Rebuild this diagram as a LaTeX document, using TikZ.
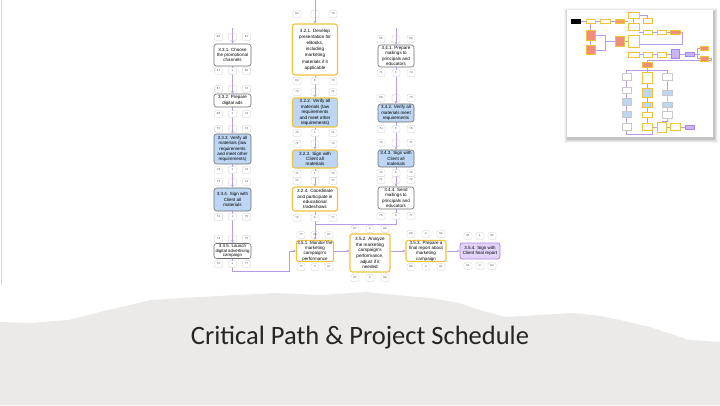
\documentclass[tikz,border=0pt]{standalone}
\usepackage{fontspec}
\setmainfont{Carlito}
\newfontfamily\dfont{Liberation Sans}
\usetikzlibrary{arrows.meta}
\pgfdeclarelayer{paper}
\pgfdeclarelayer{bg}
\pgfsetlayers{paper,bg,main}
\definecolor{yel}{HTML}{F0C23B}
\definecolor{blueF}{HTML}{BCD6F3}
\definecolor{grayB}{HTML}{6E6E6E}
\definecolor{purpleF}{HTML}{E3D5FA}
\definecolor{purpleB}{HTML}{A585E6}
\definecolor{lineC}{HTML}{B49CE6}
\definecolor{cellB}{HTML}{C8C8C8}
\definecolor{bandC}{HTML}{EBEAE8}
\definecolor{titleC}{HTML}{262626}
\definecolor{salmon}{HTML}{EF8C7C}
\definecolor{orng}{HTML}{F2A45E}
\tikzset{
 task/.style={rounded corners=2.5pt, align=center, inner sep=0.6pt, font=\dfont\fontsize{4.5}{5.3}\selectfont, text=black},
 tw/.style={task, draw=grayB, line width=0.6pt, fill=white},
 tb/.style={task, draw=grayB, line width=0.6pt, fill=blueF},
 yw/.style={task, draw=yel, line width=1.1pt, fill=white},
 yb/.style={task, draw=yel, line width=1.1pt, fill=blueF},
 pp/.style={task, draw=purpleB, line width=0.8pt, fill=purpleF},
 cell/.style={draw=cellB, line width=0.35pt, rounded corners=1pt, fill=white, minimum width=8pt, minimum height=6.5pt, inner sep=0pt, font=\dfont\fontsize{2.8}{3}\selectfont, text=black!75},
 cellopen/.style={cell, fill=none},
 conn/.style={draw=lineC, line width=0.6pt},
 arr/.style={conn, -{Stealth[length=3pt,width=2.6pt]}},
 thl/.style={draw=lineC, line width=0.3pt},
 mY/.style={draw=yel, line width=0.4pt, fill=white},
 mR/.style={draw=yel, line width=0.4pt, fill=salmon},
 mO/.style={draw=yel, line width=0.4pt, fill=orng},
 mB/.style={draw=cellB, line width=0.4pt, fill=blueF},
 mP/.style={draw=purpleB, line width=0.4pt, fill=purpleF!60!purpleB},
 mG/.style={draw=cellB, line width=0.4pt, fill=white},
 mK/.style={fill=black},
}
\newcommand\toprow[7]{%
 \node[cell] (#1-tl) at ({#2-#3},#4) {#5};
 \node[cellopen] (#1-tm) at (#2,#4) {#6};
 \node[cell] (#1-tr) at ({#2+#3},#4) {#7};}
\newcommand\botrow[7]{%
 \node[cell] (#1-bl) at ({#2-#3},#4) {#5};
 \node[cell] (#1-bm) at (#2,#4) {#6};
 \node[cell] (#1-br) at ({#2+#3},#4) {#7};}
\begin{document}
\begin{tikzpicture}[x=1pt,y=-1pt]
\useasboundingbox (0,0) rectangle (720,405);
\begin{pgfonlayer}{paper}
\fill[white] (0,0) rectangle (720,405);
\draw[black!15, line width=0.5pt] (1,0) -- (1,285);
% torn paper band
\fill[bandC] (0,322) -- (30,323) -- (69,320) -- (100,312) -- (151,300) -- (200,297)
 -- (275,293) -- (320,295) -- (367,292) -- (395,295) -- (430,298) -- (459,303)
 -- (480,310) -- (505,317) -- (540,315) -- (574,313) -- (600,316) -- (620,320)
 -- (650,327) -- (689,340) -- (705,341) -- (720,342) -- (720,405) -- (0,405) -- cycle;
\end{pgfonlayer}
\node[font=\fontsize{26.5}{30}\selectfont, text=titleC] (title) at (360,338) {Critical Path \& Project Schedule};

% ---------- column 1 ----------
\node[tw, minimum width=37pt, minimum height=22pt] (t331) at (232.5,55) {3.3.1. Choose\\the promotional\\channels};
\toprow{t331}{232.5}{14}{37}{66}{}{67}
\botrow{t331}{232.5}{14}{71}{67}{1}{68}
\node[tw, minimum width=37pt, minimum height=13pt] (t332) at (232.5,100.5) {3.3.2. Prepare\\digital ads};
\toprow{t332}{232.5}{14}{89}{67}{}{72}
\botrow{t332}{232.5}{14}{114}{68}{1}{73}
\node[tb, minimum width=37pt, minimum height=30pt] (t333) at (232.5,149) {3.3.3. Verify all\\materials (law\\requirements\\and meet other\\requirements)};
\toprow{t333}{232.5}{14}{129}{72}{}{73}
\botrow{t333}{232.5}{14}{170}{73}{1}{74}
\node[tb, minimum width=37pt, minimum height=23pt] (t334) at (232.5,199.5) {3.3.4. Sign with\\Client all\\materials};
\toprow{t334}{232.5}{14}{182}{73}{}{74}
\botrow{t334}{232.5}{14}{217}{74}{1}{75}
\node[tw, minimum width=37pt, minimum height=15pt, font=\dfont\fontsize{4.4}{4.7}\selectfont] (t335) at (232.5,251) {3.3.5. Launch\\digital advertising\\campaign};
\toprow{t335}{232.5}{14}{239}{74}{}{75}
\botrow{t335}{232.5}{14}{264}{75}{1}{77}

% ---------- column 2 ----------
\node[yw, minimum width=45pt, minimum height=51pt, font=\dfont\fontsize{4.6}{6.2}\selectfont] (t321) at (315,49.5) {3.2.1. Develop\\presentation for\\eBooks,\\including\\marketing\\materials if it\\applicable};
\toprow{t321}{315}{18}{14}{64}{}{70}
\botrow{t321}{315}{18}{81}{64}{6}{70}
\node[yb, minimum width=45pt, minimum height=29pt, font=\dfont\fontsize{4.6}{5.4}\selectfont] (t322) at (315,112.5) {3.2.2. Verify all\\materials (law\\requirements\\and meet other\\requirements)};
\toprow{t322}{315}{18}{92}{70}{}{71}
\botrow{t322}{315}{18}{133}{70}{1}{71}
\node[yb, minimum width=45pt, minimum height=18pt, font=\dfont\fontsize{4.6}{5.1}\selectfont] (t323) at (315,159) {3.2.3. Sign with\\Client all\\materials};
\toprow{t323}{315}{18}{144}{71}{}{72}
\botrow{t323}{315}{18}{174}{71}{1}{72}
\node[yw, minimum width=45pt, minimum height=24pt, font=\dfont\fontsize{4.6}{5.3}\selectfont] (t324) at (315,199) {3.2.4. Coordinate\\and participate in\\educational\\tradeshows};
\toprow{t324}{315}{18}{181}{72}{}{77}
\botrow{t324}{315}{18}{218}{72}{5}{77}

% ---------- column 3 ----------
\node[tw, minimum width=36pt, minimum height=22pt] (t341) at (396,56) {3.4.1. Prepare\\mailings to\\principals and\\educators};
\toprow{t341}{396}{15}{39}{65}{}{69}
\botrow{t341}{396}{15}{73}{71}{5}{74}
\node[tb, minimum width=36pt, minimum height=18pt] (t342) at (396,113) {3.4.2. Verify all\\materials meet\\requirements};
\toprow{t342}{396}{15}{98}{69}{}{70}
\botrow{t342}{396}{15}{129}{74}{5}{75}
\node[tb, minimum width=36pt, minimum height=17pt] (t343) at (396,158.5) {3.4.3. Sign with\\Client all\\materials};
\toprow{t343}{396}{15}{143}{70}{}{71}
\botrow{t343}{396}{15}{173}{75}{5}{76}
\node[tw, minimum width=36pt, minimum height=22pt] (t344) at (396,198) {3.4.4. Send\\mailings to\\principals and\\educators};
\toprow{t344}{396}{15}{180}{71}{}{72}
\botrow{t344}{396}{15}{216}{76}{5}{77}

% ---------- bottom row ----------
\node[yw, minimum width=37pt, minimum height=20pt] (t351) at (315,251) {3.5.1. Monitor the\\marketing\\campaign's\\performance};
\toprow{t351}{315}{14}{235}{77}{10}{87}
\botrow{t351}{315}{14}{267}{77}{0}{87}
\node[yw, minimum width=40pt, minimum height=38pt, font=\dfont\fontsize{4.6}{5.6}\selectfont] (t352) at (370,253) {3.5.2. Analyze\\the marketing\\campaign's\\performance,\\adjust if it\\needed};
\toprow{t352}{370}{15}{229}{87}{2}{89}
\botrow{t352}{370}{15}{278}{87}{0}{89}
\node[yw, minimum width=40pt, minimum height=20pt] (t353) at (426,251) {3.5.3. Prepare a\\final report about\\marketing\\campaign};
\toprow{t353}{426}{15}{234}{89}{2}{91}
\botrow{t353}{426}{15}{267}{89}{0}{91}
\node[pp, minimum width=40pt, minimum height=16pt] (t354) at (480,251) {3.5.4. Sign with\\Client final report};
\toprow{t354}{480}{12}{236}{91}{1}{92}
\botrow{t354}{480}{12}{266}{91}{0}{92}

% free ends and bends
\coordinate (s1) at (232.5,28);
\coordinate (s2) at (315,0);
\coordinate (s3) at (396,28);
\coordinate (j3) at (315,224);
\coordinate (b1) at (289,271);

\begin{pgfonlayer}{bg}
\draw[arr] (s1) -- (t331.north);
\draw[arr] (t331.south) -- (t332.north);
\draw[arr] (t332.south) -- (t333.north);
\draw[arr] (t333.south) -- (t334.north);
\draw[arr] (t334.south) -- (t335.north);
\draw[arr] (s2) -- (t321.north);
\draw[arr] (t321.south) -- (t322.north);
\draw[arr] (t322.south) -- (t323.north);
\draw[arr] (t323.south) -- (t324.north);
\draw[arr] (t324.south) -- (t351.north);
\draw[arr] (s3) -- (t341.north);
\draw[arr] (t341.south) -- (t342.north);
\draw[arr] (t342.south) -- (t343.north);
\draw[arr] (t343.south) -- (t344.north);
\draw[conn] (t344.south) |- (j3);
\draw[arr] (t335.south) |- (b1) |- (t351.west);
\draw[arr] (t351.east) -- (t351.east -| t352.west);
\draw[arr] (t351.east -| t352.east) -- (t351.east -| t353.west);
\draw[arr] (t353.east) -- (t354.west);
\end{pgfonlayer}

% ---------- thumbnail ----------
\foreach \d/\o in {4/0.04,3/0.05,2/0.07,1/0.09}{
 \fill[black, opacity=\o] ({567-\d+1},{10-\d+2}) rectangle ({713+\d+1},{137+\d+2});}
\fill[white] (567,10) rectangle (713,137);
\draw[thl] (581,21) -- (628,21);
\draw[thl] (590.5,23) -- (590.5,45);
\draw[thl] (595,35) -- (605,35) -- (605,50) -- (595,50);
\draw[thl] (605,41) -- (615,41);
\draw[thl] (624,41) -- (628,41);
\draw[thl] (633.5,18) -- (633.5,23);
\draw[thl] (639,15) -- (647.5,15) -- (647.5,18);
\draw[thl] (639,32) -- (680,32);
\draw[thl] (639,54.5) -- (700,54.5);
\draw[thl] (697,54.5) -- (697,48) -- (700,48);
\draw[thl] (697,54.5) -- (697,58.5) -- (700,58.5);
\draw[thl] (708,58.5) -- (711,58.5) -- (711,60) -- (647,60) -- (647,62);
\draw[thl] (680,32) -- (682,32) -- (682,44) -- (639,44);
\draw[thl] (626.5,70) -- (667,70);
\draw[thl] (626.5,70) -- (626.5,123);
\draw[thl] (647,67) -- (647,123);
\draw[thl] (667,70) -- (667,118) -- (667,121) -- (661.5,121);
\draw[thl] (626.5,130) -- (626.5,134) -- (652,134) -- (652,127) -- (657,127);
\draw[thl] (666,127) -- (670,127);
\draw[thl] (680,127) -- (685,127);
\fill[mK] (571,19) rectangle (581,23.5);
\filldraw[mY] (586,19) rectangle (595,23.5);
\filldraw[mY] (600,19) rectangle (610,23.5);
\filldraw[mO] (615,19) rectangle (624,23.5);
\filldraw[mY] (628,12) rectangle (639,18);
\filldraw[mY] (628,23) rectangle (639,30);
\filldraw[mY] (643,18) rectangle (652,23);
\filldraw[mR] (586,30) rectangle (595,40);
\filldraw[mR] (586,45) rectangle (595,54);
\filldraw[mR] (615,36) rectangle (624,46);
\filldraw[mY] (628,35) rectangle (639,47);
\filldraw[mY] (628,52) rectangle (639,57);
\filldraw[mY] (643,30) rectangle (652,34);
\filldraw[mY] (657,30) rectangle (666,34);
\filldraw[mR] (670,30) rectangle (680,34);
\filldraw[mY] (643,52) rectangle (652,57);
\filldraw[mY] (657,52) rectangle (666,57);
\filldraw[mP] (671,49) rectangle (679,58);
\filldraw[mP] (685,52) rectangle (694,56);
\filldraw[mR] (700,46) rectangle (708,50);
\filldraw[mR] (700,56) rectangle (708,61);
\filldraw[mR] (642,62) rectangle (652,67);
\filldraw[mG] (622,73) rectangle (631,80);
\filldraw[mG] (622,87) rectangle (631,93);
\filldraw[mB] (622,98) rectangle (631,105);
\filldraw[mB] (622,111) rectangle (631,117);
\filldraw[mG] (622,123) rectangle (631,130);
\filldraw[mY] (642,72) rectangle (652,83);
\filldraw[mB, draw=yel] (642,88) rectangle (652,97);
\filldraw[mB, draw=yel] (642,102) rectangle (652,107);
\filldraw[mY] (642,112) rectangle (652,117);
\filldraw[mY] (642,123) rectangle (652,130);
\filldraw[mG] (662,73) rectangle (672,80);
\filldraw[mB] (662,90) rectangle (672,95);
\filldraw[mB] (662,102) rectangle (672,107);
\filldraw[mG] (662,111) rectangle (672,118);
\filldraw[mY] (657,122) rectangle (666,132);
\filldraw[mY] (670,123) rectangle (680,130);
\filldraw[mP] (685,125) rectangle (694,129);
\end{tikzpicture}
\end{document}
